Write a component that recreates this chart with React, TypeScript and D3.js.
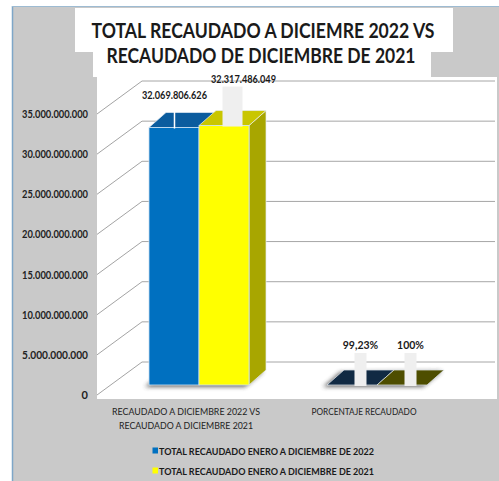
import React from "react";
import * as d3 from "d3";

const titleLines = ["TOTAL RECAUDADO A DICIEMRE 2022 VS", "RECAUDADO DE DICIEMBRE DE 2021"];
const categories = [
  ["RECAUDADO A DICIEMBRE 2022 VS", "RECAUDADO A DICIEMBRE 2021"],
  ["PORCENTAJE RECAUDADO"],
];
const seriesNames = [
  "TOTAL RECAUDADO ENERO A DICIEMBRE DE 2022",
  "TOTAL RECAUDADO ENERO A DICIEMBRE DE 2021",
];
const values2022 = [32069806626, 0.9923];
const values2021 = [32317486049, 1];
const yTicks = [0, 5e9, 10e9, 15e9, 20e9, 25e9, 30e9, 35e9];

const W = 499;
const H = 481;
const FONT = "Lato, 'Open Sans', 'Liberation Sans', Arial, sans-serif";

const locale = d3.formatLocale({ decimal: ",", thousands: ".", grouping: [3], currency: ["$", ""] });
const fmtNum = locale.format(",.0f");
const fmtPct = locale.format(".2~%");

const palette = [
  { front: "#0070c0", top: "#0b5c9e", side: "#0a4f88", flat: "#112a43", legend: "#0070c0" },
  { front: "#ffff00", top: "#c9c600", side: "#a8a600", flat: "#4e4e00", legend: "#ffff00" },
];

const catLineWidths = [[148, 134], [105]];

export default function App() {
  const plot = { left: 97, right: 453, top: 114, bottom: 395 };
  const wallDepth = { x: 45, y: -33 };
  const barFront = { x: 13, y: -10 };
  const barDepth = { x: 17, y: -15 };

  const y = d3.scaleLinear().domain([0, 35e9]).range([plot.bottom, plot.top]);
  const x0 = d3
    .scaleBand<number>()
    .domain(categories.map((_, i) => i))
    .range([plot.left, plot.right])
    .paddingInner(0.438)
    .paddingOuter(0.219);
  const x1 = d3.scaleBand<number>().domain([0, 1]).range([0, x0.bandwidth()]);

  const series = [values2022, values2021];

  const pts = (arr: [number, number][]) => arr.map((p) => p.join(",")).join(" ");

  const bars: any[] = [];
  categories.forEach((_, ci) => {
    series.forEach((vals, si) => {
      const v = vals[ci];
      const xl = (x0(ci) as number) + (x1(si) as number) + barFront.x;
      const xr = xl + x1.bandwidth();
      const yb = y(0) + barFront.y;
      const yt = y(v) + barFront.y;
      bars.push({ ci, si, v, xl, xr, yb, yt, flat: yb - yt < 2 });
    });
  });

  const shadowPolys = categories.map((_, ci) => {
    const bs = bars.filter((b) => b.ci === ci);
    const xl = d3.min(bs, (b) => b.xl) as number;
    const xr = d3.max(bs, (b) => b.xr) as number;
    const yb = bs[0].yb;
    return pts([
      [xl - 4, yb + 2],
      [xr - 4, yb + 2],
      [xr + barDepth.x - 2, yb + barDepth.y + 1],
      [xl + barDepth.x - 4, yb + barDepth.y + 2],
    ]);
  });

  const labelNudge = (b: any) => {
    if (b.ci === 0) return b.si === 0 ? { dx: -8, dy: -14 } : { dx: 11, dy: -28 };
    return { dx: 0, dy: -21 };
  };

  return (
    <svg width={W} height={H} style={{ position: "absolute", left: 0, top: 0 }} fontFamily={FONT}>
      <defs>
        <filter id="blur" x="-50%" y="-100%" width="200%" height="300%">
          <feGaussianBlur stdDeviation="2.2" />
        </filter>
      </defs>
      <rect x={0} y={0} width={W} height={H} fill="#ffffff" />
      <rect x={12} y={6} width={W - 12} height={H - 6} fill="#c9c9c9" />
      <line x1={12.5} y1={6} x2={12.5} y2={H} stroke="#7ea6c8" strokeWidth={1.5} />
      <line x1={12} y1={6.5} x2={W} y2={6.5} stroke="#9dbbd2" strokeWidth={1} />

      <rect x={97} y={77} width={400} height={322} fill="#ffffff" />

      <rect x={75} y={8} width={378} height={44} fill="#ffffff" />
      <rect x={93} y={33} width={338} height={44} fill="#ffffff" />
      <text x={263} y={38} textAnchor="middle" fontSize={20} fontWeight="bold" fill="#1a1a1a" textLength={343} lengthAdjust="spacingAndGlyphs">
        {titleLines[0]}
      </text>
      <text x={261} y={63} textAnchor="middle" fontSize={20} fontWeight="bold" fill="#1a1a1a" textLength={309} lengthAdjust="spacingAndGlyphs">
        {titleLines[1]}
      </text>

      {yTicks.map((t) => {
        const fy = y(t);
        return (
          <g key={t}>
            <line x1={plot.left} y1={fy} x2={plot.left + wallDepth.x} y2={fy + wallDepth.y} stroke="#8c8c8c" strokeWidth={0.8} />
            <line x1={plot.left + wallDepth.x} y1={fy + wallDepth.y} x2={495} y2={fy + wallDepth.y} stroke="#a6a6a6" strokeWidth={1} />
            <text x={88} y={fy + 4} textAnchor="end" fontSize={11} fontWeight="bold" fill="#222" {...(t > 0 ? { textLength: 66, lengthAdjust: "spacingAndGlyphs" } : {})}>
              {fmtNum(t)}
            </text>
          </g>
        );
      })}

      {shadowPolys.map((p, i) => (
        <polygon key={i} points={p} fill="#3a3a3a" opacity={0.75} filter="url(#blur)" />
      ))}

      {bars.map((b, i) => {
        const c = palette[b.si];
        const top = pts([
          [b.xl, b.yt],
          [b.xr, b.yt],
          [b.xr + barDepth.x, b.yt + barDepth.y],
          [b.xl + barDepth.x, b.yt + barDepth.y],
        ]);
        const side = pts([
          [b.xr, b.yt],
          [b.xr + barDepth.x, b.yt + barDepth.y],
          [b.xr + barDepth.x, b.yb + barDepth.y],
          [b.xr, b.yb],
        ]);
        return (
          <g key={i}>
            {!b.flat && <polygon points={side} fill={c.side} stroke="#e8eef3" strokeWidth={0.7} />}
            <polygon points={top} fill={b.flat ? c.flat : c.top} stroke="#e8eef3" strokeWidth={0.7} />
            {!b.flat && (
              <rect x={b.xl} y={b.yt} width={b.xr - b.xl} height={b.yb - b.yt} fill={c.front} stroke="#cfe3f3" strokeWidth={0.8} />
            )}
          </g>
        );
      })}

      {bars.map((b, i) => {
        const n = labelNudge(b);
        const topCx = (b.xl + b.xr) / 2 + barDepth.x / 2;
        const ly = b.yt + barDepth.y + n.dy;
        const label = b.ci === 0 ? fmtNum(b.v) : fmtPct(b.v);
        const boxW = b.ci === 0 ? (b.si === 0 ? 1.5 : 20) : 12;
        return (
          <g key={"l" + i}>
            <rect x={topCx - boxW / 2 + (b.ci === 0 && b.si === 0 ? -8 : 0)} y={ly + 4} width={boxW} height={b.yt - ly - 3} fill={b.ci === 0 && b.si === 0 ? "#ffffff" : "#efefef"} />
            <text x={topCx + n.dx} y={ly} textAnchor="middle" fontSize={10.5} fontWeight="bold" fill="#1a1a1a" {...(b.ci === 0 ? { textLength: 65, lengthAdjust: "spacingAndGlyphs" } : {})}>
              {label}
            </text>
          </g>
        );
      })}

      {categories.map((lines, ci) => {
        const cx = (x0(ci) as number) + x0.bandwidth() / 2;
        return lines.map((ln, li) => (
          <text key={ci + "-" + li} x={cx} y={415 + li * 14} textAnchor="middle" fontSize={10} fill="#222" textLength={catLineWidths[ci][li]} lengthAdjust="spacingAndGlyphs">
            {ln}
          </text>
        ));
      })}

      {seriesNames.map((s, i) => (
        <g key={s}>
          <rect x={152.5} y={447.5 + i * 20} width={5.5} height={6} fill={palette[i].legend} />
          <text x={159} y={455 + i * 20} fontSize={10} fontWeight="bold" fill="#1a1a1a" textLength={215} lengthAdjust="spacingAndGlyphs">
            {s}
          </text>
        </g>
      ))}
    </svg>
  );
}
